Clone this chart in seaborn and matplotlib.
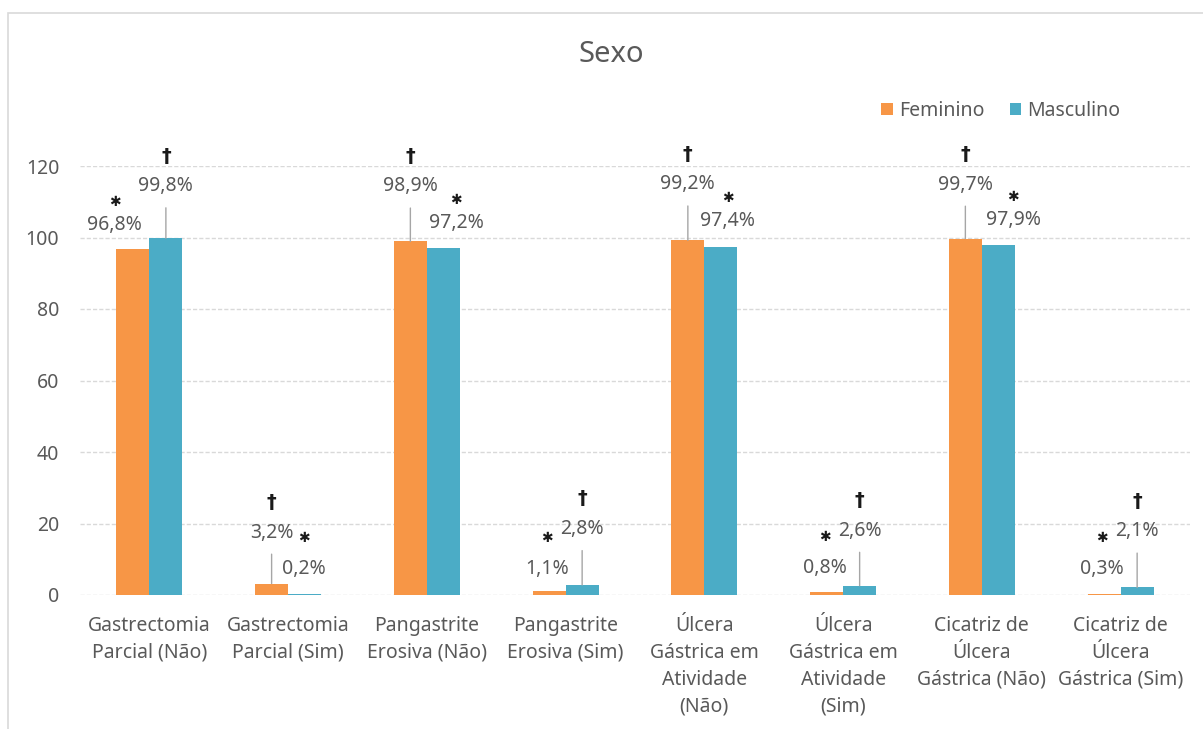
import matplotlib
matplotlib.use("Agg")
import matplotlib.pyplot as plt
import seaborn as sns
import pandas as pd
from matplotlib.patches import Rectangle

# ---- data ----
categories = [
    "Gastrectomia\nParcial (Não)",
    "Gastrectomia\nParcial (Sim)",
    "Pangastrite\nErosiva (Não)",
    "Pangastrite\nErosiva (Sim)",
    "Úlcera\nGástrica em\nAtividade\n(Não)",
    "Úlcera\nGástrica em\nAtividade\n(Sim)",
    "Cicatriz de\nÚlcera\nGástrica (Não)",
    "Cicatriz de\nÚlcera\nGástrica (Sim)",
]
series_names = ["Feminino", "Masculino"]
feminino = [96.8, 3.2, 98.9, 1.1, 99.2, 0.8, 99.7, 0.3]
masculino = [99.8, 0.2, 97.2, 2.8, 97.4, 2.6, 97.9, 2.1]
fem_labels = ["96,8%", "3,2%", "98,9%", "1,1%", "99,2%", "0,8%", "99,7%", "0,3%"]
masc_labels = ["99,8%", "0,2%", "97,2%", "2,8%", "97,4%", "2,6%", "97,9%", "2,1%"]
y_ticks = [0, 20, 40, 60, 80, 100, 120]
title = "Sexo"

# ---- styling: label offsets (pixels, relative to bar top centre; negative dy = up) ----
fem_off = [(-18, -24), (0, -51), (0, -55), (-2, -22), (0, -56), (-2, -24), (0, -54), (-2, -25)]
masc_off = [(0, -52), (-1, -25), (13, -25), (0, -56), (7, -26), (0, -55), (15, -25), (0, -56)]

ORANGE = "#F79646"
BLUE = "#4BACC6"
GREY_TXT = "#595959"
GRID = "#D9D9D9"

df = pd.DataFrame({
    "categoria": categories * 2,
    "sexo": [series_names[0]] * len(categories) + [series_names[1]] * len(categories),
    "valor": feminino + masculino,
})

sns.set_theme(style="white")
plt.rcParams["font.family"] = ["Noto Sans", "DejaVu Sans"]

W, H = 1203, 729
fig = plt.figure(figsize=(W / 100, H / 100), dpi=100)
ax = fig.add_axes([80 / W, 1 - 595 / H, 1110 / W, (595 - 166) / H])

sns.barplot(data=df, x="categoria", y="valor", hue="sexo", order=categories,
            hue_order=series_names, palette=[ORANGE, BLUE], width=0.476, gap=0,
            saturation=1, linewidth=0, ax=ax, legend=True)

ax.set_ylim(0, 120)
ax.set_xlim(-0.5, len(categories) - 0.5)
ax.set_yticks(y_ticks)
ax.set_xlabel("")
ax.set_ylabel("")
for s in ax.spines.values():
    s.set_visible(False)
ax.yaxis.grid(True, color=GRID, linestyle=(0, (3, 1.5)), linewidth=1)
ax.xaxis.grid(False)
ax.set_axisbelow(True)
ax.tick_params(axis="y", length=0, pad=15, labelsize=14, labelcolor=GREY_TXT)
ax.tick_params(axis="x", length=0, pad=15, labelsize=14, labelcolor=GREY_TXT)
for t in ax.get_xticklabels():
    t.set_linespacing(1.47)
    t.set_multialignment("center")

PX = 0.72  # points per pixel at 100 dpi

def add_labels(container, labels, offs, other_vals, own_vals):
    for i, (bar, lab, (dx, dy)) in enumerate(zip(container.patches, labels, offs)):
        x = bar.get_x() + bar.get_width() / 2
        y = bar.get_height()
        leader = dy < -40
        kw = {}
        if leader:
            kw["arrowprops"] = dict(arrowstyle="-", color="#A6A6A6", lw=1,
                                    shrinkA=6, shrinkB=0, relpos=(0.5, 0.0))
        ax.annotate(lab, xy=(x, y), xytext=(dx * PX, -dy * PX), textcoords="offset points",
                    ha="center", va="center", fontsize=14, color=GREY_TXT,
                    annotation_clip=False, **kw)
        higher = own_vals[i] > other_vals[i]
        small = max(own_vals[i], other_vals[i]) < 50
        if higher:
            sym, sdy, fs = "†", dy - 30, 14
        else:
            sym, sdy, fs = "✱", dy - (31 if small else 23), 10
        ax.annotate(sym, xy=(x, y), xytext=(dx * PX, -sdy * PX), textcoords="offset points",
                    ha="center", va="center", fontsize=fs, color="#1a1a1a",
                    fontweight="bold", family="DejaVu Sans", annotation_clip=False)

add_labels(ax.containers[0], fem_labels, fem_off, masculino, feminino)
add_labels(ax.containers[1], masc_labels, masc_off, feminino, masculino)

leg = ax.legend(loc="center right", bbox_to_anchor=(1128 / W, 1 - 111 / H),
                bbox_transform=fig.transFigure, ncol=2, frameon=False, fontsize=14,
                handlelength=0.6, handleheight=0.6, handletextpad=0.3, columnspacing=1.3,
                labelcolor=GREY_TXT, borderaxespad=0)

fig.text(611 / W, 1 - 54 / H, title, ha="center", va="center", fontsize=21, color=GREY_TXT)

# chart frame
fig.patches.append(Rectangle((8 / W, -0.05), 1.2, 1 - 13 / H + 0.05, transform=fig.transFigure,
                             fill=False, edgecolor=GRID, linewidth=1.2))

fig.savefig("out.png", dpi=100, facecolor="white")
